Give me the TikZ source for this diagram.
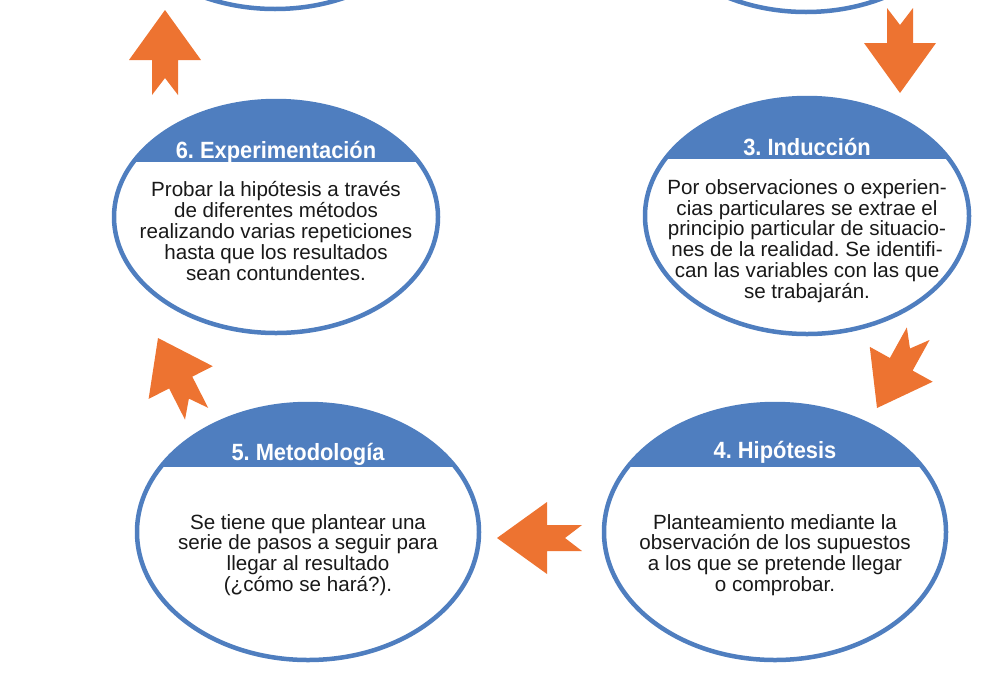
\documentclass[tikz,border=0pt]{standalone}
\usepackage{fontspec}
\setmainfont{Liberation Sans}
\usetikzlibrary{shapes.geometric}
\definecolor{stageblue}{RGB}{79,126,191}
\definecolor{arroworange}{RGB}{237,115,49}
\tikzset{
    stage/.style={ellipse, draw=stageblue, line width=4.5pt, fill=white, inner sep=0pt},
    hdband/.style={path picture={\fill[stageblue] (path picture bounding box.north west)
        rectangle ([yshift=-#1pt]path picture bounding box.north east);}},
    hdtext/.style={text=white, font=\bfseries\fontsize{23.5}{24}\selectfont, xscale=0.93,
        anchor=base, inner sep=0pt},
    bodytext/.style={text=black!90, font=\fontsize{20.6}{20.8}\selectfont, align=center,
        inner sep=0pt},
    pics/fatarrow/.style={code={
        \fill[arroworange] (0,0) -- (-50,36) -- (-50,13) -- (-85,13) -- (-68,0)
            -- (-85,-13) -- (-50,-13) -- (-50,-36) -- cycle;
    }}
}

\begin{document}
\frenchspacing
\begin{tikzpicture}[x=1pt, y=-1pt]
    \useasboundingbox (0,0) rectangle (984,681);
    \clip (0,0) rectangle (984,681);
    % stages cut off at the top
    \node[stage, minimum width=324, minimum height=234] (s-1) at (275,-108) {};
    \node[stage, minimum width=324, minimum height=234] (s-2) at (806,-105) {};
    \foreach \sname/\sx/\sy/\sw/\sh/\sband/\hy/\ty/\stitle/\sbody in {
        6/276/217/324/232/61/158/231/{6. Experimentación}/{Probar la hipótesis a través\\de diferentes métodos\\realizando varias repeticiones\\hasta que los resultados\\sean contundentes.},
        3/807/216/324/236/61/155/241/{3. Inducción}/{Por observaciones o experien-\\cias particulares se extrae el\\principio particular de situacio-\\nes de la realidad. Se identifi-\\can las variables con las que\\se trabajarán.},
        5/308/532/342/256/63/460/555/{5. Metodología}/{Se tiene que plantear una\\serie de pasos a seguir para\\llegar al resultado\\(¿cómo se hará?).},
        4/775/532/342/256/63/458/555/{4. Hipótesis}/{Planteamiento mediante la\\observación de los supuestos\\a los que se pretende llegar\\o comprobar.}} {
        \node[stage, hdband=\sband, minimum width=\sw, minimum height=\sh] (s-\sname) at (\sx,\sy) {};
        \node[hdtext] (h-\sname) at (\sx,\hy) {\stitle};
        \node[bodytext] (t-\sname) at (\sx,\ty) {\sbody};
    }
    \pic (a-1) [rotate=90] at (165,10) {fatarrow};
    \pic (a-2) [rotate=-90] at (900,93) {fatarrow};
    \pic (a-3) [rotate=241] at (877,408) {fatarrow};
    \pic (a-4) [rotate=180] at (497,538) {fatarrow};
    \pic (a-5) [rotate=117] at (158,338) {fatarrow};
\end{tikzpicture}
\end{document}
